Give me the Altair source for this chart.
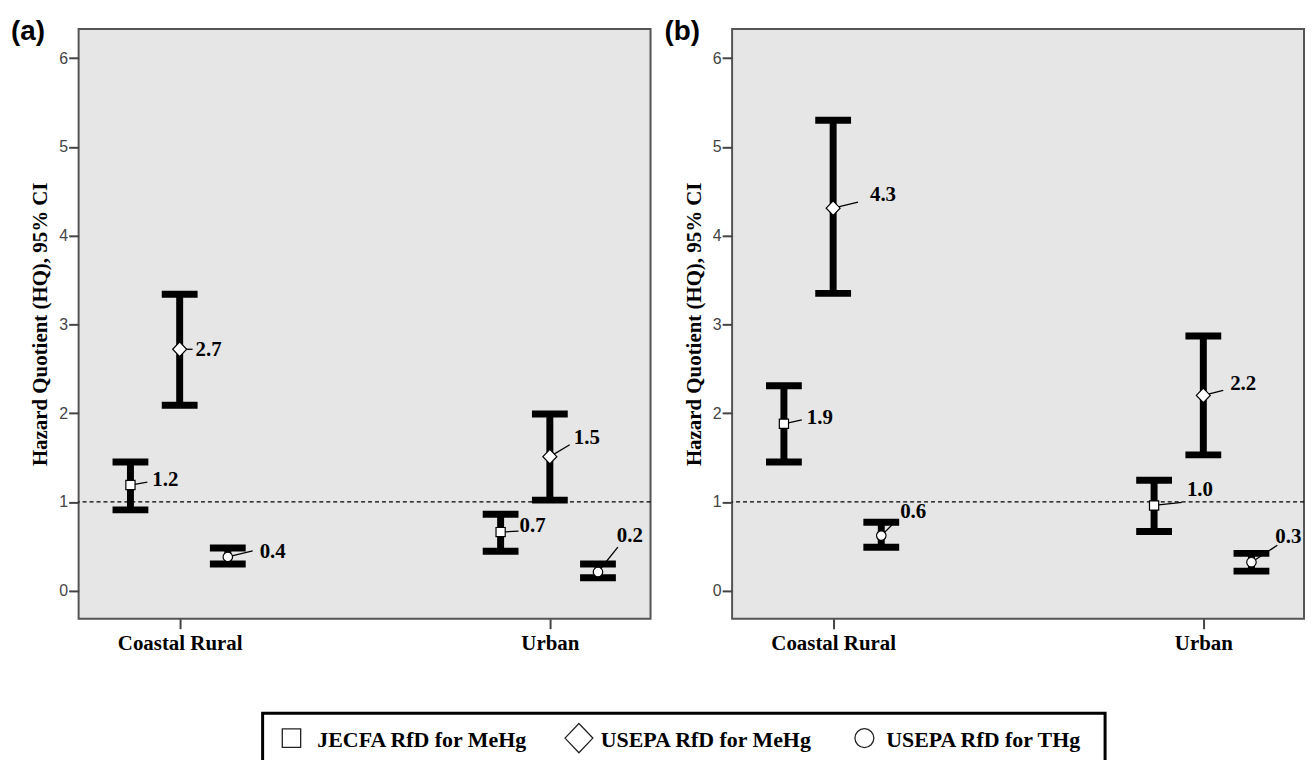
import altair as alt
import pandas as pd

# ---------------- data ----------------
categories = ["Coastal Rural", "Urban"]
series = ["JECFA RfD for MeHg", "USEPA RfD for MeHg", "USEPA RfD for THg"]
panel_tags = ["(a)", "(b)"]
threshold = [1.0]

# order: Coastal Rural (JECFA, USEPA MeHg, USEPA THg), then Urban (same order)
a_mean = [1.19, 2.72, 0.38, 0.66, 1.51, 0.21]
a_low = [0.91, 2.09, 0.30, 0.445, 1.02, 0.146]
a_high = [1.45, 3.34, 0.48, 0.86, 1.99, 0.30]

b_mean = [1.88, 4.31, 0.62, 0.96, 2.20, 0.32]
b_low = [1.45, 3.35, 0.49, 0.666, 1.53, 0.22]
b_high = [2.31, 5.30, 0.77, 1.245, 2.87, 0.42]

y_ticks = [0, 1, 2, 3, 4, 5, 6]

# ---------------- layout / style ----------------
W, H = 575, 593
X_DOM = [0.727, 2.272]
Y_DOM = [-0.317, 6.33]
PXX = W / (X_DOM[1] - X_DOM[0])
PXY = H / (Y_DOM[1] - Y_DOM[0])
series_offset = [-0.133, 0.0, 0.13]
# label placement (pixels relative to marker): text anchor, leader-line end
a_text_off = [(22, -5), (16, 1), (32, -5), (19, -6), (24, -19), (19, -36)]
a_lead_off = [(17, -3), (13, 0), (25, -6), (18, -1), (20, -12), (20, -25)]
b_text_off = [(23, -6), (37, -13), (19, -24), (33, -15), (27, -11), (24, -25)]
b_lead_off = [(18, -4), (25, -6), (16, -16), (28, -3), (20, -5), (26, -17)]

# legend layout (pixels inside the legend strip, origin under panel (a)'s plot)
LEG_W, LEG_H = 1040, 95
leg_sym_x = [214, 503, 790]
leg_lab_x = [240, 525, 812]
leg_sym_y = 84
leg_lab_y = 93
leg_box = (185, 1032, 59, 112)
LEG_SYM_SIZE = 784
leg_sym_paths = [
    "M-0.64,-0.64L0.64,-0.64L0.64,0.64L-0.64,0.64Z",
    "M-1,0L0,-1L1,0L0,1Z",
    "M0.82,0A0.82,0.7,0,1,1,-0.82,0A0.82,0.7,0,1,1,0.82,0Z",
]

SERIF = "Liberation Serif"
SANS = "Liberation Sans"
shape_paths = [
    "M-0.66,-0.66L0.66,-0.66L0.66,0.66L-0.66,0.66Z",
    "M-1,0L0,-1.05L1,0L0,1.05Z",
    "M0.68,0A0.68,0.68,0,1,1,-0.68,0A0.68,0.68,0,1,1,0.68,0Z",
]

label_expr = " : ".join(
    [f"datum.value == {i + 1} ? '{c}'" for i, c in enumerate(categories[:-1])]
    + [f"'{categories[-1]}'"]
)

xs = alt.Scale(domain=X_DOM, nice=False, zero=False)
ys = alt.Scale(domain=Y_DOM, nice=False, zero=False)
xaxis = alt.Axis(values=[1, 2], labelExpr=label_expr, title=None, grid=False, domain=False,
                 ticks=True, tickSize=10, tickWidth=2, tickColor="#444", labelPadding=4,
                 labelFont=SERIF, labelFontWeight="bold", labelFontSize=21, labelColor="black")
yaxis = alt.Axis(values=y_ticks, title="Hazard Quotient (HQ), 95% CI", grid=False, domain=False,
                 ticks=True, tickSize=10, tickWidth=2, tickColor="#444", labelPadding=1,
                 labelFont=SANS, labelFontSize=16, labelColor="#444",
                 titleFont=SERIF, titleFontWeight="bold", titleFontSize=21, titleColor="black",
                 titlePadding=8)


def X(f):
    return alt.X(f + ":Q", scale=xs, axis=xaxis)


def Y(f):
    return alt.Y(f + ":Q", scale=ys, axis=yaxis)


def panel(tag, mean, low, high, text_off, lead_off):
    rows = []
    for i, (m, lo, hi) in enumerate(zip(mean, low, high)):
        ci, si = divmod(i, 3)
        x = ci + 1 + series_offset[si]
        tdx, tdy = text_off[i]
        ldx, ldy = lead_off[i]
        rows.append(dict(category=categories[ci], series=series[si], x=x, mean=m, low=lo, high=hi,
                         xt=x + tdx / PXX, yt=m - tdy / PXY, xl=x + ldx / PXX, yl=m - ldy / PXY,
                         label=f"{m:.1f}"))
    df = pd.DataFrame(rows)
    base = alt.Chart(df)

    ref = alt.Chart(pd.DataFrame({"t": threshold})).mark_rule(
        color="black", strokeWidth=1.3, strokeDash=[4, 3]).encode(y=Y("t"))
    bars = base.mark_rule(color="black", strokeWidth=7).encode(x=X("x"), y=Y("low"), y2="high")
    caps_lo = base.mark_tick(orient="horizontal", size=36, thickness=7, color="black",
                             opacity=1).encode(x=X("x"), y=Y("low"))
    caps_hi = base.mark_tick(orient="horizontal", size=36, thickness=7, color="black",
                             opacity=1).encode(x=X("x"), y=Y("high"))
    leads = base.mark_rule(color="black", strokeWidth=1.3).encode(
        x=X("x"), y=Y("mean"), x2="xl", y2="yl")
    pts = base.mark_point(filled=False, fill="white", fillOpacity=1, stroke="black",
                          strokeWidth=1.2, opacity=1, size=196).encode(
        x=X("x"), y=Y("mean"),
        shape=alt.Shape("series:N", scale=alt.Scale(domain=series, range=shape_paths),
                        legend=None),
    )
    texts = base.mark_text(align="left", baseline="middle", font=SERIF, fontWeight="bold",
                           fontSize=21, color="black").encode(x=X("xt"), y=Y("yt"), text="label:N")
    tagc = alt.Chart(pd.DataFrame({"tag": [tag]})).mark_text(
        align="left", baseline="middle", font=SANS, fontWeight="bold", fontSize=28,
        color="black").encode(x=alt.value(-68), y=alt.value(3), text="tag:N")
    return alt.layer(ref, bars, caps_lo, caps_hi, leads, pts, texts, tagc).properties(
        width=W, height=H)


pa = panel(panel_tags[0], a_mean, a_low, a_high, a_text_off, a_lead_off)
pb = panel(panel_tags[1], b_mean, b_low, b_high, b_text_off, b_lead_off)

# ---------------- legend strip ----------------
leg_df = pd.DataFrame({"series": series, "sx": leg_sym_x, "lx": leg_lab_x})
leg_base = alt.Chart(leg_df)
leg_syms = leg_base.mark_point(filled=False, fill="white", fillOpacity=1, stroke="#222",
                               strokeWidth=1.3, opacity=1, size=LEG_SYM_SIZE).encode(
    x=alt.X("sx:Q", scale=None, axis=None),
    y=alt.value(leg_sym_y),
    shape=alt.Shape("series:N", scale=alt.Scale(domain=series, range=leg_sym_paths), legend=None),
)
leg_text = leg_base.mark_text(align="left", baseline="alphabetic", font=SERIF, fontWeight="bold",
                              fontSize=22, color="black").encode(
    x=alt.X("lx:Q", scale=None, axis=None), y=alt.value(leg_lab_y), text="series:N")
leg_frame = alt.Chart(pd.DataFrame({"k": [0]})).mark_rect(
    fill="transparent", stroke="black", strokeWidth=3).encode(
    x=alt.value(leg_box[0]), x2=alt.value(leg_box[1]),
    y=alt.value(leg_box[2]), y2=alt.value(leg_box[3]))
legend_strip = alt.layer(leg_frame, leg_syms, leg_text).properties(
    width=LEG_W, height=LEG_H,
    view=alt.ViewBackground(fill="transparent", stroke="transparent", strokeWidth=0))

chart = alt.vconcat(alt.hconcat(pa, pb, spacing=11), legend_strip, spacing=0).properties(
    padding={"left": 2, "top": 7, "right": 0, "bottom": 0}
).configure_view(
    fill="#e6e6e6", stroke="#555", strokeWidth=2
)

chart.save("out.html", embed_options={"renderer": "svg", "actions": False})
